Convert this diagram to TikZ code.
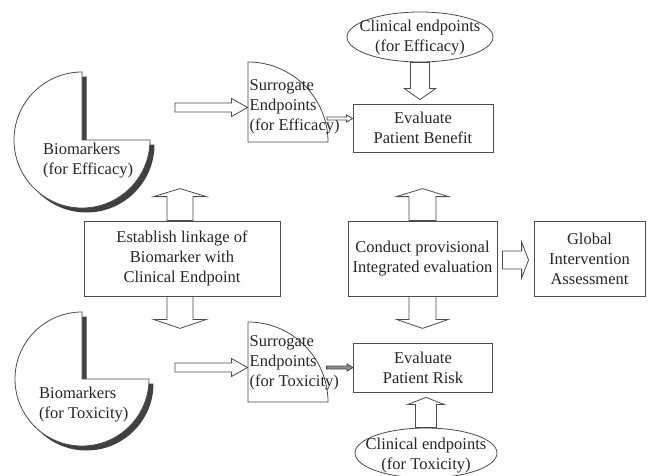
\documentclass[tikz,border=0pt]{standalone}
\usepackage{fontspec}
\setmainfont{Liberation Serif}
\usetikzlibrary{calc,shapes.geometric}
\begin{document}
\begin{tikzpicture}[x=1pt,y=1pt,
  every node/.style={font=\fontsize{16.5}{20}\selectfont, text=black!85},
  ln/.style={draw=black!70, line width=0.8pt},
  box/.style={ln, rectangle, inner sep=0pt, align=center},
  oval/.style={ln, ellipse, inner sep=0pt},
  lbl/.style={inner sep=0pt, align=center},
  leftlbl/.style={inner sep=0pt, align=left, anchor=west},
  shadowfill/.style={fill=black!75},
  % hollow block arrow: shaft half-width, head half-width, head length
  blockarrow/.style n args={3}{ln, fill=white, line join=miter, to path={
    ($(\tikztostart)!#1pt!90:(\tikztotarget)$)
    -- ($($(\tikztotarget)!#3pt!(\tikztostart)$)!#1pt!90:(\tikztotarget)$)
    -- ($($(\tikztotarget)!#3pt!(\tikztostart)$)!#2pt!90:(\tikztotarget)$)
    -- (\tikztotarget)
    -- ($($(\tikztotarget)!#3pt!(\tikztostart)$)!#2pt!-90:(\tikztotarget)$)
    -- ($($(\tikztotarget)!#3pt!(\tikztostart)$)!#1pt!-90:(\tikztotarget)$)
    -- ($(\tikztostart)!#1pt!-90:(\tikztotarget)$)
    -- cycle}},
]
\fill[white] (0,0) rectangle (650,475);
\useasboundingbox (0,0) rectangle (650,475);

% pie-shaped biomarker blocks with drop shadow
\fill[shadowfill] (86.5,330.5) -- (86.5,398.5) arc[start angle=90, end angle=360, radius=68] -- cycle;
\filldraw[ln, fill=white] (82,335) -- (82,403) arc[start angle=90, end angle=360, radius=68] -- cycle;
\fill[shadowfill] (86.5,91.5) -- (86.5,158.5) arc[start angle=90, end angle=360, radius=67] -- cycle;
\filldraw[ln, fill=white] (82,96) -- (82,163) arc[start angle=90, end angle=360, radius=67] -- cycle;
\node[leftlbl] (bioeff) at (43,314.5) {Biomarkers\\(for Efficacy)};
\node[leftlbl] (biotox) at (39,70) {Biomarkers\\(for Toxicity)};

% quarter-circle surrogate endpoint blocks
\filldraw[ln, fill=white] (248,333) -- (248,413) arc[start angle=90, end angle=0, radius=80] -- cycle;
\filldraw[ln, fill=white] (248,73) -- (248,153) arc[start angle=90, end angle=0, radius=80] -- cycle;
\node[leftlbl] (sureff) at (249.5,368) {Surrogate\\Endpoints\\(for Efficacy)};
\node[leftlbl] (surtox) at (249.5,112) {Surrogate\\Endpoints\\(for Toxicity)};

% process boxes
\node[box, minimum width=196pt, minimum height=75pt] (est) at (182,216.5) {Establish linkage of\\Biomarker with\\Clinical Endpoint};
\node[box, minimum width=149pt, minimum height=75pt] (cond) at (422.5,216.5) {Conduct provisional\\Integrated evaluation};
\node[box, minimum width=111pt, minimum height=75pt] (glob) at (589.5,216.5) {Global\\Intervention\\Assessment};
\node[box, minimum width=140pt, minimum height=48pt] (ben) at (423,347) {Evaluate\\Patient Benefit};
\node[box, minimum width=139pt, minimum height=49pt] (risk) at (423,107.5) {Evaluate\\Patient Risk};

% clinical endpoint ovals
\node[oval, minimum width=146pt, minimum height=50pt] (effcl) at (420,438) {};
\node[lbl] (effcltext) at (420,437) {Clinical endpoints\\(for Efficacy)};
\node[oval, minimum width=142pt, minimum height=50pt] (toxcl) at (426,22) {};
\node[lbl] (toxcltext) at (426,19) {Clinical endpoints\\(for Toxicity)};

% arrow end points
\coordinate (a1s) at (175,367.5);
\coordinate (a1e) at (247.5,367.5);
\coordinate (a2s) at (327,356.5);
\coordinate (a2e) at (ben.west |- a2s);
\coordinate (a3e) at ($(effcl.south |- ben.north)+(0,4)$);
\coordinate (a4e) at ($(toxcl.north |- risk.south)+(0,-5)$);
\coordinate (a5s) at ($(est.north)+(-2,0)$);
\coordinate (a5e) at ($(est.north)+(-2,32)$);
\coordinate (a6s) at ($(est.south)+(-2,0)$);
\coordinate (a6e) at ($(est.south)+(-2,-32)$);
\coordinate (a7e) at ($(cond.north)+(0,32)$);
\coordinate (a8e) at ($(cond.south)+(0,-32)$);
\coordinate (a9s) at ($(cond.east)+(5,-1.5)$);
\coordinate (a9e) at ($(glob.west)+(-5,-1.5)$);
\coordinate (a10s) at (175,107.5);
\coordinate (a10e) at (247.5,107.5);
\coordinate (a11s) at ($(risk.west)+(-26.5,0)$);

% block arrows
\draw[blockarrow={4.5}{9}{16}] (a1s) to (a1e);
\draw[blockarrow={1.5}{3.5}{6}] (a2s) to (a2e);
\draw[blockarrow={9.5}{15.5}{11}] (effcl.south) to (a3e);
\draw[blockarrow={10.5}{18}{7}] (toxcl.north) to (a4e);
\draw[blockarrow={13}{26.5}{8}] (a5s) to (a5e);
\draw[blockarrow={13}{26.5}{9}] (a6s) to (a6e);
\draw[blockarrow={13.5}{26}{8}] (cond.north) to (a7e);
\draw[blockarrow={13.5}{26}{9}] (cond.south) to (a8e);
\draw[blockarrow={9}{18}{7}] (a9s) to (a9e);
\draw[blockarrow={4.5}{9}{16}] (a10s) to (a10e);
\draw[blockarrow={1.5}{3.5}{6}, fill=black!45] (a11s) to (risk.west);
\end{tikzpicture}
\end{document}
